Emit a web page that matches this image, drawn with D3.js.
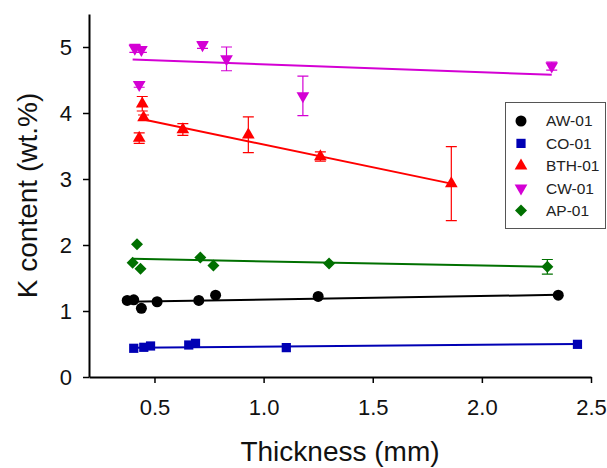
<!DOCTYPE html>
<html>
<head>
<meta charset="utf-8">
<script src="https://cdn.jsdelivr.net/npm/d3@7"></script>
<style>
  body { margin: 0; background: #fff; }
  svg { display: block; font-family: "Liberation Sans", Arial, sans-serif; }
</style>
</head>
<body>
<div id="chart"></div>
<script>
// series names and colours (legend order)
const seriesNames = ["AW-01", "CO-01", "BTH-01", "CW-01", "AP-01"];
const seriesColors = ["#000000", "#0000b4", "#ff0000", "#d400d4", "#007000"];

// thickness (mm) / K content (wt.%) / error (wt.%)
const awX = [0.375, 0.405, 0.44, 0.512, 0.703, 0.78, 1.25, 2.35];
const awY = [1.16, 1.17, 1.04, 1.14, 1.16, 1.24, 1.22, 1.24];
const awErr = [0, 0, 0, 0, 0, 0, 0, 0];

const coX = [0.405, 0.451, 0.482, 0.657, 0.688, 1.104, 2.438];
const coY = [0.435, 0.45, 0.47, 0.485, 0.51, 0.445, 0.495];
const coErr = [0, 0, 0, 0, 0, 0, 0];

const bthX = [0.43, 0.444, 0.45, 0.63, 0.93, 1.26, 1.86];
const bthY = [3.62, 4.14, 3.93, 3.75, 3.67, 3.34, 2.93];
const bthErr = [0.08, 0.11, 0.04, 0.09, 0.27, 0.07, 0.56];

const cwX = [0.41, 0.44, 0.43, 0.72, 0.83, 1.18, 2.32];
const cwY = [4.98, 4.96, 4.43, 5.03, 4.82, 4.26, 4.71];
const cwErr = [0.06, 0.04, 0.04, 0.05, 0.18, 0.30, 0.06];

const apX = [0.42, 0.40, 0.436, 0.71, 0.77, 1.30, 2.30];
const apY = [2.01, 1.73, 1.64, 1.81, 1.69, 1.72, 1.67];
const apErr = [0, 0, 0, 0, 0, 0, 0.11];

// linear fit lines, [x, y] at both ends
const awFit = [[0.375, 1.14], [2.35, 1.245]];
const coFit = [[0.405, 0.445], [2.44, 0.50]];
const bthFit = [[0.45, 3.90], [1.86, 2.93]];
const cwFit = [[0.40, 4.81], [2.32, 4.58]];
const apFit = [[0.40, 1.79], [2.30, 1.67]];

const xTicks = [0.5, 1.0, 1.5, 2.0, 2.5];
const yTicks = [0, 1, 2, 3, 4, 5];

function makeSeries(i, xs, ys, errs, fit, symbol, rotate, size) {
  return {
    name: seriesNames[i], color: seriesColors[i], fit: fit,
    symbol: symbol, rotate: rotate, size: size,
    points: xs.map((x, j) => ({x: x, y: ys[j], err: errs[j]}))
  };
}

const series = [
  makeSeries(0, awX, awY, awErr, awFit, d3.symbolCircle, 0, 95),
  makeSeries(1, coX, coY, coErr, coFit, d3.symbolSquare, 0, 85),
  makeSeries(2, bthX, bthY, bthErr, bthFit, d3.symbolTriangle, 0, 70),
  makeSeries(3, cwX, cwY, cwErr, cwFit, d3.symbolTriangle, 180, 70),
  makeSeries(4, apX, apY, apErr, apFit, d3.symbolSquare, 45, 72)
];

const width = 607, height = 468;
const margin = {left: 89, right: 591, top: 14, bottom: 377};

const svg = d3.select("#chart").append("svg")
  .attr("width", width)
  .attr("height", height);

const x = d3.scaleLinear().domain([0.2, 2.5]).range([margin.left, margin.right]);
const y = d3.scaleLinear().domain([0, 5.5]).range([margin.bottom, margin.top]);

// axes
const xAxis = svg.append("g")
  .attr("transform", "translate(0," + margin.bottom + ")")
  .call(d3.axisBottom(x).tickValues(xTicks).tickFormat(d3.format(".1f"))
    .tickSize(6).tickSizeOuter(0).tickPadding(16));
xAxis.selectAll("text").attr("font-size", 22).attr("fill", "#111");

const yAxis = svg.append("g")
  .attr("transform", "translate(" + margin.left + ",0)")
  .call(d3.axisLeft(y).tickValues(yTicks).tickFormat(d3.format("d"))
    .tickSize(6).tickSizeOuter(0).tickPadding(11));
yAxis.selectAll("text").attr("font-size", 22).attr("fill", "#111");

svg.selectAll(".domain").attr("stroke", "#000").attr("stroke-width", 2);
svg.selectAll(".tick line").attr("stroke", "#000").attr("stroke-width", 1.5);

// axis titles
svg.append("text")
  .attr("x", (margin.left + margin.right) / 2)
  .attr("y", 461)
  .attr("text-anchor", "middle")
  .attr("font-size", 28)
  .attr("fill", "#111")
  .text("Thickness (mm)");

svg.append("text")
  .attr("transform", "translate(37," + (margin.top + margin.bottom) / 2 + ") rotate(-90)")
  .attr("text-anchor", "middle")
  .attr("font-size", 28)
  .attr("fill", "#111")
  .text("K content (wt.%)");

// fit lines
const line = d3.line().x(d => x(d[0])).y(d => y(d[1]));
svg.selectAll(".fit")
  .data(series)
  .enter().append("path")
  .attr("class", "fit")
  .attr("d", d => line(d.fit))
  .attr("fill", "none")
  .attr("stroke", d => d.color)
  .attr("stroke-width", 2);

// points with error bars
series.forEach(function(s) {
  const g = svg.append("g");
  const withErr = s.points.filter(p => p.err > 0);

  g.selectAll(".err")
    .data(withErr)
    .enter().append("path")
    .attr("d", function(p) {
      const cx = x(p.x), y0 = y(p.y - p.err), y1 = y(p.y + p.err);
      return "M" + cx + "," + y0 + "V" + y1 +
        "M" + (cx - 5.5) + "," + y0 + "H" + (cx + 5.5) +
        "M" + (cx - 5.5) + "," + y1 + "H" + (cx + 5.5);
    })
    .attr("fill", "none")
    .attr("stroke", s.color)
    .attr("stroke-width", 1.2);

  g.selectAll(".pt")
    .data(s.points)
    .enter().append("path")
    .attr("d", d3.symbol().type(s.symbol).size(s.size))
    .attr("transform", p => "translate(" + x(p.x) + "," + y(p.y) + ") rotate(" + s.rotate + ")")
    .attr("fill", s.color);
});

// legend
const legend = svg.append("g");
legend.append("rect")
  .attr("x", 505.5).attr("y", 102.5)
  .attr("width", 100).attr("height", 126)
  .attr("fill", "#fff")
  .attr("stroke", "#555")
  .attr("stroke-width", 1);

const items = legend.selectAll(".item")
  .data(series)
  .enter().append("g")
  .attr("transform", (d, i) => "translate(0," + (121 + i * 22.4) + ")");

items.append("path")
  .attr("d", d => d3.symbol().type(d.symbol).size(d.size)())
  .attr("transform", d => "translate(521,0) rotate(" + d.rotate + ")")
  .attr("fill", d => d.color);

items.append("text")
  .attr("x", 546)
  .attr("dy", "0.35em")
  .attr("font-size", 15.5)
  .attr("fill", "#222")
  .text(d => d.name);
</script>
</body>
</html>
